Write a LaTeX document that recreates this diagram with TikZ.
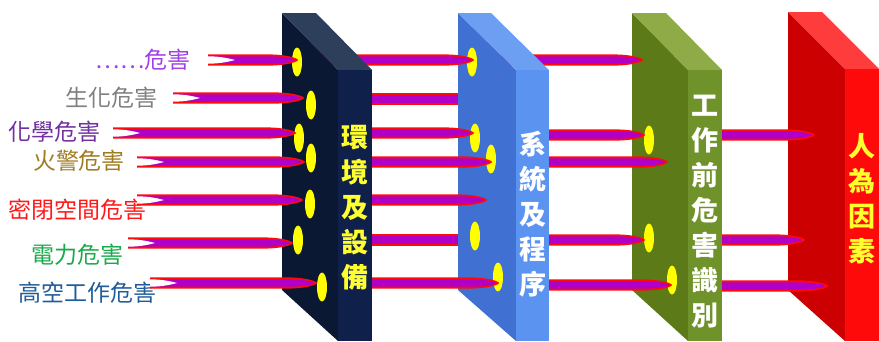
\documentclass[tikz,border=0pt]{standalone}
\usepackage{fontspec}
\newfontfamily\cjk{Noto Sans CJK TC}
\definecolor{rodred}{HTML}{FF0A0A}
\definecolor{rodmag}{HTML}{B000C8}
\definecolor{hole}{HTML}{FFFF00}
\definecolor{nvB}{HTML}{0B1834}
\definecolor{nvT}{HTML}{2E3F5C}
\definecolor{nvF}{HTML}{0F214A}
\definecolor{blB}{HTML}{4070D2}
\definecolor{blT}{HTML}{6C9FF2}
\definecolor{blF}{HTML}{5B94F0}
\definecolor{olB}{HTML}{5C7A18}
\definecolor{olT}{HTML}{8EAB48}
\definecolor{olF}{HTML}{70922A}
\definecolor{rdB}{HTML}{CC0000}
\definecolor{rdT}{HTML}{FF3C3C}
\definecolor{rdF}{HTML}{FF0A0A}
\definecolor{cA}{HTML}{A040E8}
\definecolor{cB}{HTML}{808080}
\definecolor{cC}{HTML}{7030A0}
\definecolor{cD}{HTML}{A07C20}
\definecolor{cE}{HTML}{FF1A1A}
\definecolor{cF}{HTML}{1AAA4A}
\definecolor{cG}{HTML}{1F5C99}
\definecolor{ptY}{HTML}{FFFF30}
% rod: flat left end, pointed right end
\newcommand\rodtip[3]{%
  \fill[rodred] (#1,#3-5.6) -- (#2-30,#3-5.6) .. controls (#2-10,#3-5.6) and (#2,#3-1.5) .. (#2,#3) .. controls (#2,#3+1.5) and (#2-10,#3+5.6) .. (#2-30,#3+5.6) -- (#1,#3+5.6) -- cycle;
  \fill[rodmag] (#1,#3-3.7) -- (#2-30,#3-3.7) .. controls (#2-12,#3-3.7) and (#2-3,#3-1) .. (#2-3,#3) .. controls (#2-3,#3+1) and (#2-12,#3+3.7) .. (#2-30,#3+3.7) -- (#1,#3+3.7) -- cycle;}
% rod with notched tail
\newcommand\rodtail[3]{%
  \rodtip{#1}{#2}{#3}%
  \fill[white] (#1,#3-3.7) .. controls (#1+14,#3-3.7) and (#1+24,#3-0.8) .. (#1+27,#3) .. controls (#1+24,#3+0.8) and (#1+14,#3+3.7) .. (#1,#3+3.7) -- cycle;}
% rod flat both ends
\newcommand\rodflat[3]{%
  \fill[rodred] (#1,#3-5.6) rectangle (#2,#3+5.6);
  \fill[rodmag] (#1,#3-3.7) rectangle (#2,#3+3.7);}
% slab: x0, dx, t, ytop, broad, top, front
\newcommand\slab[7]{%
  \fill[#5] (#1,#4) -- (#1+#2,#4+57) -- (#1+#2,341) -- (#1,290) -- cycle;
  \fill[#6] (#1,#4) -- (#1+#3,#4) -- (#1+#2+#3,#4+57) -- (#1+#2,#4+57) -- cycle;
  \fill[#7] (#1+#2,#4+57) rectangle (#1+#2+#3,341);}
\newcommand\hl[2]{\fill[hole] (#1,#2) ellipse [x radius=5, y radius=14.5];}
\begin{document}
\begin{tikzpicture}[x=1pt,y=-1pt,
  lbl/.style={inner sep=0pt, font=\cjk\fontsize{23}{23}\selectfont},
  ptext/.style={inner sep=0pt, align=center, font=\cjk\bfseries\fontsize{27}{35}\selectfont}]
\useasboundingbox (0,0) rectangle (879,341);
% labels
\node[lbl, text=cA] (l1) at (143,60) {⋯⋯危害};
\node[lbl, text=cB] (l2) at (111,98) {生化危害};
\node[lbl, text=cC] (l3) at (55,132) {化學危害};
\node[lbl, text=cD] (l4) at (79,161) {火警危害};
\node[lbl, text=cE] (l5) at (78,210) {密閉空間危害};
\node[lbl, text=cF] (l6) at (77,255) {電力危害};
\node[lbl, text=cG] (l7) at (88,293) {高空工作危害};
% panel 4
\slab{788}{57}{34}{12}{rdB}{rdT}{rdF}
\node[ptext, text=ptY] (t4) at (862,199) {人\\為\\因\\素};
% rods P3 -> P4
\rodtip{680}{815}{135}
\rodtip{680}{805}{240}
\rodtip{680}{828}{286}
% panel 3
\slab{632}{56}{34}{13}{olB}{olT}{olF}
\node[ptext, text=white] (t3) at (705,212) {工\\作\\前\\危\\害\\識\\別};
\hl{649}{140}\hl{649}{238}\hl{672}{280}
% rods P2 -> P3
\rodtip{500}{643}{60}
\rodtip{500}{645}{135}
\rodtip{500}{668}{162}
\rodtip{500}{645}{240}
\rodtip{500}{672}{285}
% panel 2
\slab{458}{58}{33}{13}{blB}{blT}{blF}
\node[ptext, text=white] (t2) at (533,214) {系\\統\\及\\程\\序};
\hl{472}{62}\hl{475}{138}\hl{491}{159}\hl{475}{236}\hl{498}{277}
% rods P1 -> P2
\rodtip{320}{474}{60}
\rodflat{320}{458}{99}
\rodtip{320}{474}{133}
\rodtip{320}{492}{162}
\rodtip{320}{487}{200}
\rodflat{320}{458}{240}
\rodtip{320}{499}{283}
% panel 1
\slab{282}{56}{34}{13}{nvB}{nvT}{nvF}
\node[ptext, text=ptY] (t1) at (355,208) {環\\境\\及\\設\\備};
\hl{297}{62}\hl{311}{105}\hl{299}{138}\hl{311}{158}\hl{310}{204}\hl{298}{240}\hl{322}{287}
% incoming rods
\rodtail{208}{298}{60}
\rodtail{173}{304}{98}
\rodtail{113}{296}{133}
\rodtail{137}{305}{162}
\rodtail{137}{303}{200}
\rodtail{128}{293}{243}
\rodtail{150}{317}{283}
\end{tikzpicture}
\end{document}
